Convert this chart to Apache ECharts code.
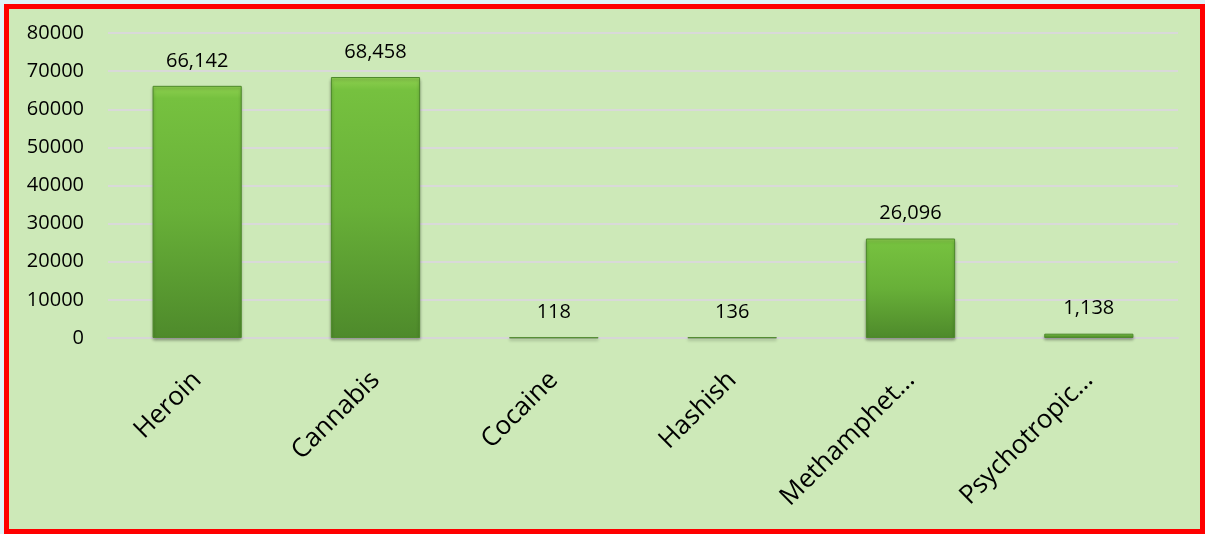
<!DOCTYPE html>
<html><head><meta charset="utf-8">
<script src="https://cdn.jsdelivr.net/npm/echarts@6/dist/echarts.min.js"></script>
<style>
html,body{margin:0;padding:0;width:1205px;height:534px;background:#dff3f7;overflow:hidden;}
#frame{position:absolute;left:4px;top:4px;width:1201px;height:530px;box-sizing:border-box;border:5px solid #ff0000;background:#cde9b8;}
#chart{position:absolute;left:0;top:0;width:1205px;height:534px;}
</style></head>
<body>
<div id="frame"></div>
<div id="chart"></div>
<script>
const categories = ["Heroin", "Cannabis", "Cocaine", "Hashish", "Methamphet…", "Psychotropic…"];
const values = [66142, 68458, 118, 136, 26096, 1138];
const yTicks = [0, 10000, 20000, 30000, 40000, 50000, 60000, 70000, 80000];

const chart = echarts.init(document.getElementById('chart'), null, {renderer: 'canvas'});
const font = "'Open Sans', 'Noto Sans', sans-serif";
chart.setOption({
  backgroundColor: 'transparent',
  animation: false,
  grid: {left: 108, right: 27, top: 33, bottom: 196, containLabel: false},
  xAxis: {
    type: 'category',
    data: categories,
    axisLine: {show: true, lineStyle: {color: '#d6d6d6', width: 2}},
    axisTick: {show: false},
    axisLabel: {rotate: 45, margin: 38, color: '#000', fontSize: 26, fontFamily: font, interval: 0}
  },
  yAxis: {
    type: 'value',
    min: yTicks[0],
    max: yTicks[yTicks.length - 1],
    interval: yTicks[1] - yTicks[0],
    axisLine: {show: false},
    axisTick: {show: false},
    splitLine: {lineStyle: {color: '#d9d9d9', width: 2}},
    axisLabel: {margin: 24, color: '#000', fontSize: 20, fontFamily: font, formatter: v => String(v)}
  },
  series: [{
    type: 'bar',
    data: values,
    barWidth: '50%',
    itemStyle: {
      color: new echarts.graphic.LinearGradient(0, 0, 0, 1, [
        {offset: 0, color: '#8fd150'},
        {offset: 0.05, color: '#76c13f'},
        {offset: 0.5, color: '#68b038'},
        {offset: 1, color: '#4e8a2b'}
      ]),
      borderColor: '#4f8a2c',
      borderWidth: 1,
      shadowColor: 'rgba(0,0,0,0.3)',
      shadowBlur: 3,
      shadowOffsetY: 2
    },
    label: {
      show: true,
      position: 'top',
      distance: 15,
      color: '#000',
      fontSize: 20,
      fontFamily: font,
      formatter: p => p.value.toLocaleString('en-US')
    }
  }]
});
</script>
</body></html>
